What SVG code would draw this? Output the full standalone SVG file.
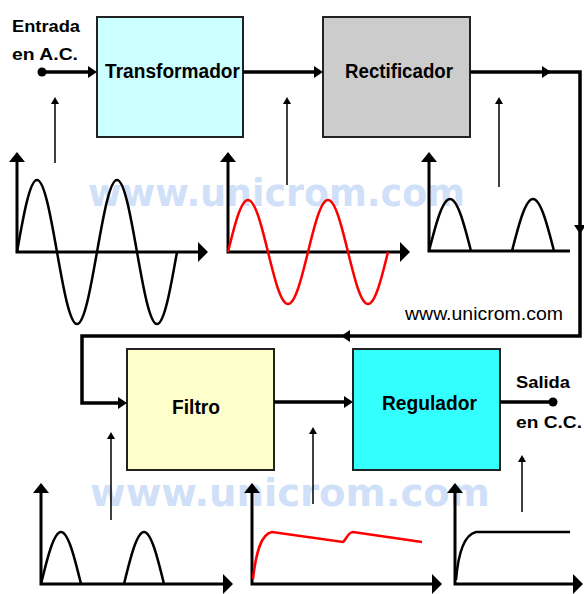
<svg xmlns="http://www.w3.org/2000/svg" width="584" height="594" viewBox="0 0 584 594">
<style>
.wm{font-family:"DejaVu Sans",Verdana,sans-serif;font-weight:bold;font-size:37px;fill:#cfe0f8}
.lbl{font-family:"Liberation Sans",Arial,sans-serif;font-weight:bold;font-size:20px;fill:#000}
.side{font-family:"Liberation Sans",Arial,sans-serif;font-weight:bold;font-size:17px;fill:#000}
.box{stroke:#222;stroke-width:2}
.wire{fill:none;stroke:#000;stroke-width:3.5}
.axis{fill:none;stroke:#000;stroke-width:3}
.thin{fill:none;stroke:#000;stroke-width:1.5}
.curve{fill:none;stroke:#000;stroke-width:2.5}
.red{fill:none;stroke:#ff0000;stroke-width:2.5}
.head{fill:#000}
</style>
<rect width="584" height="594" fill="#fff"/>
<!-- watermarks -->
<text class="wm" x="88" y="206" textLength="377" lengthAdjust="spacingAndGlyphs">www.unicrom.com</text>
<text class="wm" x="90" y="506" textLength="400" lengthAdjust="spacingAndGlyphs">www.unicrom.com</text>

<g id="transformador">
<rect class="box" x="97" y="17" width="146" height="120" fill="#ccffff"/>
<text class="lbl" x="105" y="78" textLength="135" lengthAdjust="spacingAndGlyphs">Transformador</text>
</g>
<g id="rectificador">
<rect class="box" x="323" y="17" width="147" height="120" fill="#cccccc"/>
<text class="lbl" x="345" y="78" textLength="108" lengthAdjust="spacingAndGlyphs">Rectificador</text>
</g>
<g id="filtro">
<rect class="box" x="127" y="349" width="147" height="121" fill="#ffffcc"/>
<text class="lbl" x="172" y="414" textLength="48" lengthAdjust="spacingAndGlyphs">Filtro</text>
</g>
<g id="regulador">
<rect class="box" x="353" y="349" width="147" height="121" fill="#33ffff"/>
<text class="lbl" x="382" y="410" textLength="95" lengthAdjust="spacingAndGlyphs">Regulador</text>
</g>
<g id="entrada">
<text class="side" x="12" y="32" textLength="68" lengthAdjust="spacingAndGlyphs">Entrada</text>
<text class="side" x="12" y="60" textLength="66" lengthAdjust="spacingAndGlyphs">en A.C.</text>
<circle cx="42" cy="72" r="4.5" fill="#000"/>
</g>
<g id="salida">
<text class="side" x="516" y="388" textLength="54" lengthAdjust="spacingAndGlyphs">Salida</text>
<text class="side" x="516" y="428" textLength="66" lengthAdjust="spacingAndGlyphs">en C.C.</text>
<circle cx="553" cy="402" r="4.5" fill="#000"/>
</g>

<g id="connectors">
<path class="wire" d="M42,72 H90"/>
<polygon class="head" points="97,72 88,66 88,78"/>
<path class="wire" d="M243,72 H316"/>
<polygon class="head" points="323,72 314,66 314,78"/>
<path class="wire" d="M470,72 H580 V336 H82 V403 H120"/>
<polygon class="head" points="551,72 542,66 542,78"/>
<polygon class="head" points="580,234 574,225 586,225"/>
<polygon class="head" points="341,336 350,330 350,342"/>
<polygon class="head" points="127,403 118,397 118,409"/>
<path class="wire" d="M274,402 H346"/>
<polygon class="head" points="353,402 344,396 344,408"/>
<path class="wire" d="M500,402 H553"/>
<!-- thin pointer arrows -->
<path class="thin" d="M55,163 V101 M287,185 V101 M499,187 V101 M111,520 V436 M313,504 V431 M522,512 V459"/>
<polygon class="head" points="55,97 51,104 59,104"/>
<polygon class="head" points="287,97 283,104 291,104"/>
<polygon class="head" points="499,97 495,104 503,104"/>
<polygon class="head" points="111,432 107,439 115,439"/>
<polygon class="head" points="313,427 309,434 317,434"/>
<polygon class="head" points="522,455 518,462 526,462"/>
</g>

<g id="graph-ac">
<path class="axis" d="M17,160 V252 H199"/>
<polygon class="head" points="17,152 9,162 25,162"/>
<polygon class="head" points="208,252 198,242 198,262"/>
<path class="curve" d="M17,252 C23.5,215.1 29.8,180 37,180 C44.2,180 50.5,215.1 57,252 C63.5,288.9 69.8,324 77,324 C84.2,324 90.5,288.9 97,252 C103.5,215.1 109.8,180 117,180 C124.2,180 130.5,215.1 137,252 C143.5,288.9 149.8,324 157,324 C164.2,324 170.5,288.9 177,252"/>
</g>
<g id="graph-ac-reduced">
<path class="axis" d="M228,160 V252 H401"/>
<polygon class="head" points="228,152 220,162 236,162"/>
<polygon class="head" points="410,252 400,242 400,262"/>
<path class="red" d="M228,252 C234.5,225.4 240.8,200 248,200 C255.2,200 261.5,225.4 268,252 C274.5,278.6 280.8,304 288,304 C295.2,304 301.5,278.6 308,252 C314.5,225.4 320.8,200 328,200 C335.2,200 341.5,225.4 348,252 C354.5,278.6 360.8,304 368,304 C375.2,304 381.5,278.6 388,252"/>
</g>
<g id="graph-rectified">
<path class="axis" d="M429,160 V251 H570"/>
<polygon class="head" points="429,152 421,162 437,162"/>
<path class="curve" d="M429,251 C435.8,224.4 442.4,199 450,199 C457.6,199 464.2,224.4 471,251 M512,251 C518.8,224.4 525.4,199 533,199 C540.6,199 547.2,224.4 554,251"/>
</g>
<g id="graph-filter-in">
<path class="axis" d="M41,491 V584 H224"/>
<polygon class="head" points="41,483 33,493 49,493"/>
<polygon class="head" points="233,584 223,574 223,594"/>
<path class="curve" d="M41,584 C47.5,557.4 53.8,532 61,532 C68.2,532 74.5,557.4 81,584 M124,584 C130.5,557.4 136.8,532 144,532 C151.2,532 157.5,557.4 164,584"/>
</g>
<g id="graph-filtered">
<path class="axis" d="M252,491 V584 H433"/>
<polygon class="head" points="252,483 244,493 260,493"/>
<polygon class="head" points="442,584 432,574 432,594"/>
<path class="red" d="M253,579 C256,552 261,534 272,532 L343,542 C346,540 348,532 353,532 L422,542"/>
</g>
<g id="graph-dc">
<path class="axis" d="M455,491 V584 H574"/>
<polygon class="head" points="455,483 447,493 463,493"/>
<polygon class="head" points="583,584 573,574 573,594"/>
<path class="curve" d="M456,580 C458,556 463,535 476,532 L570,532"/>
</g>
<text x="405" y="320" font-family="'Liberation Sans',Arial,sans-serif" font-size="18" fill="#000" textLength="158" lengthAdjust="spacingAndGlyphs">www.unicrom.com</text>
</svg>
